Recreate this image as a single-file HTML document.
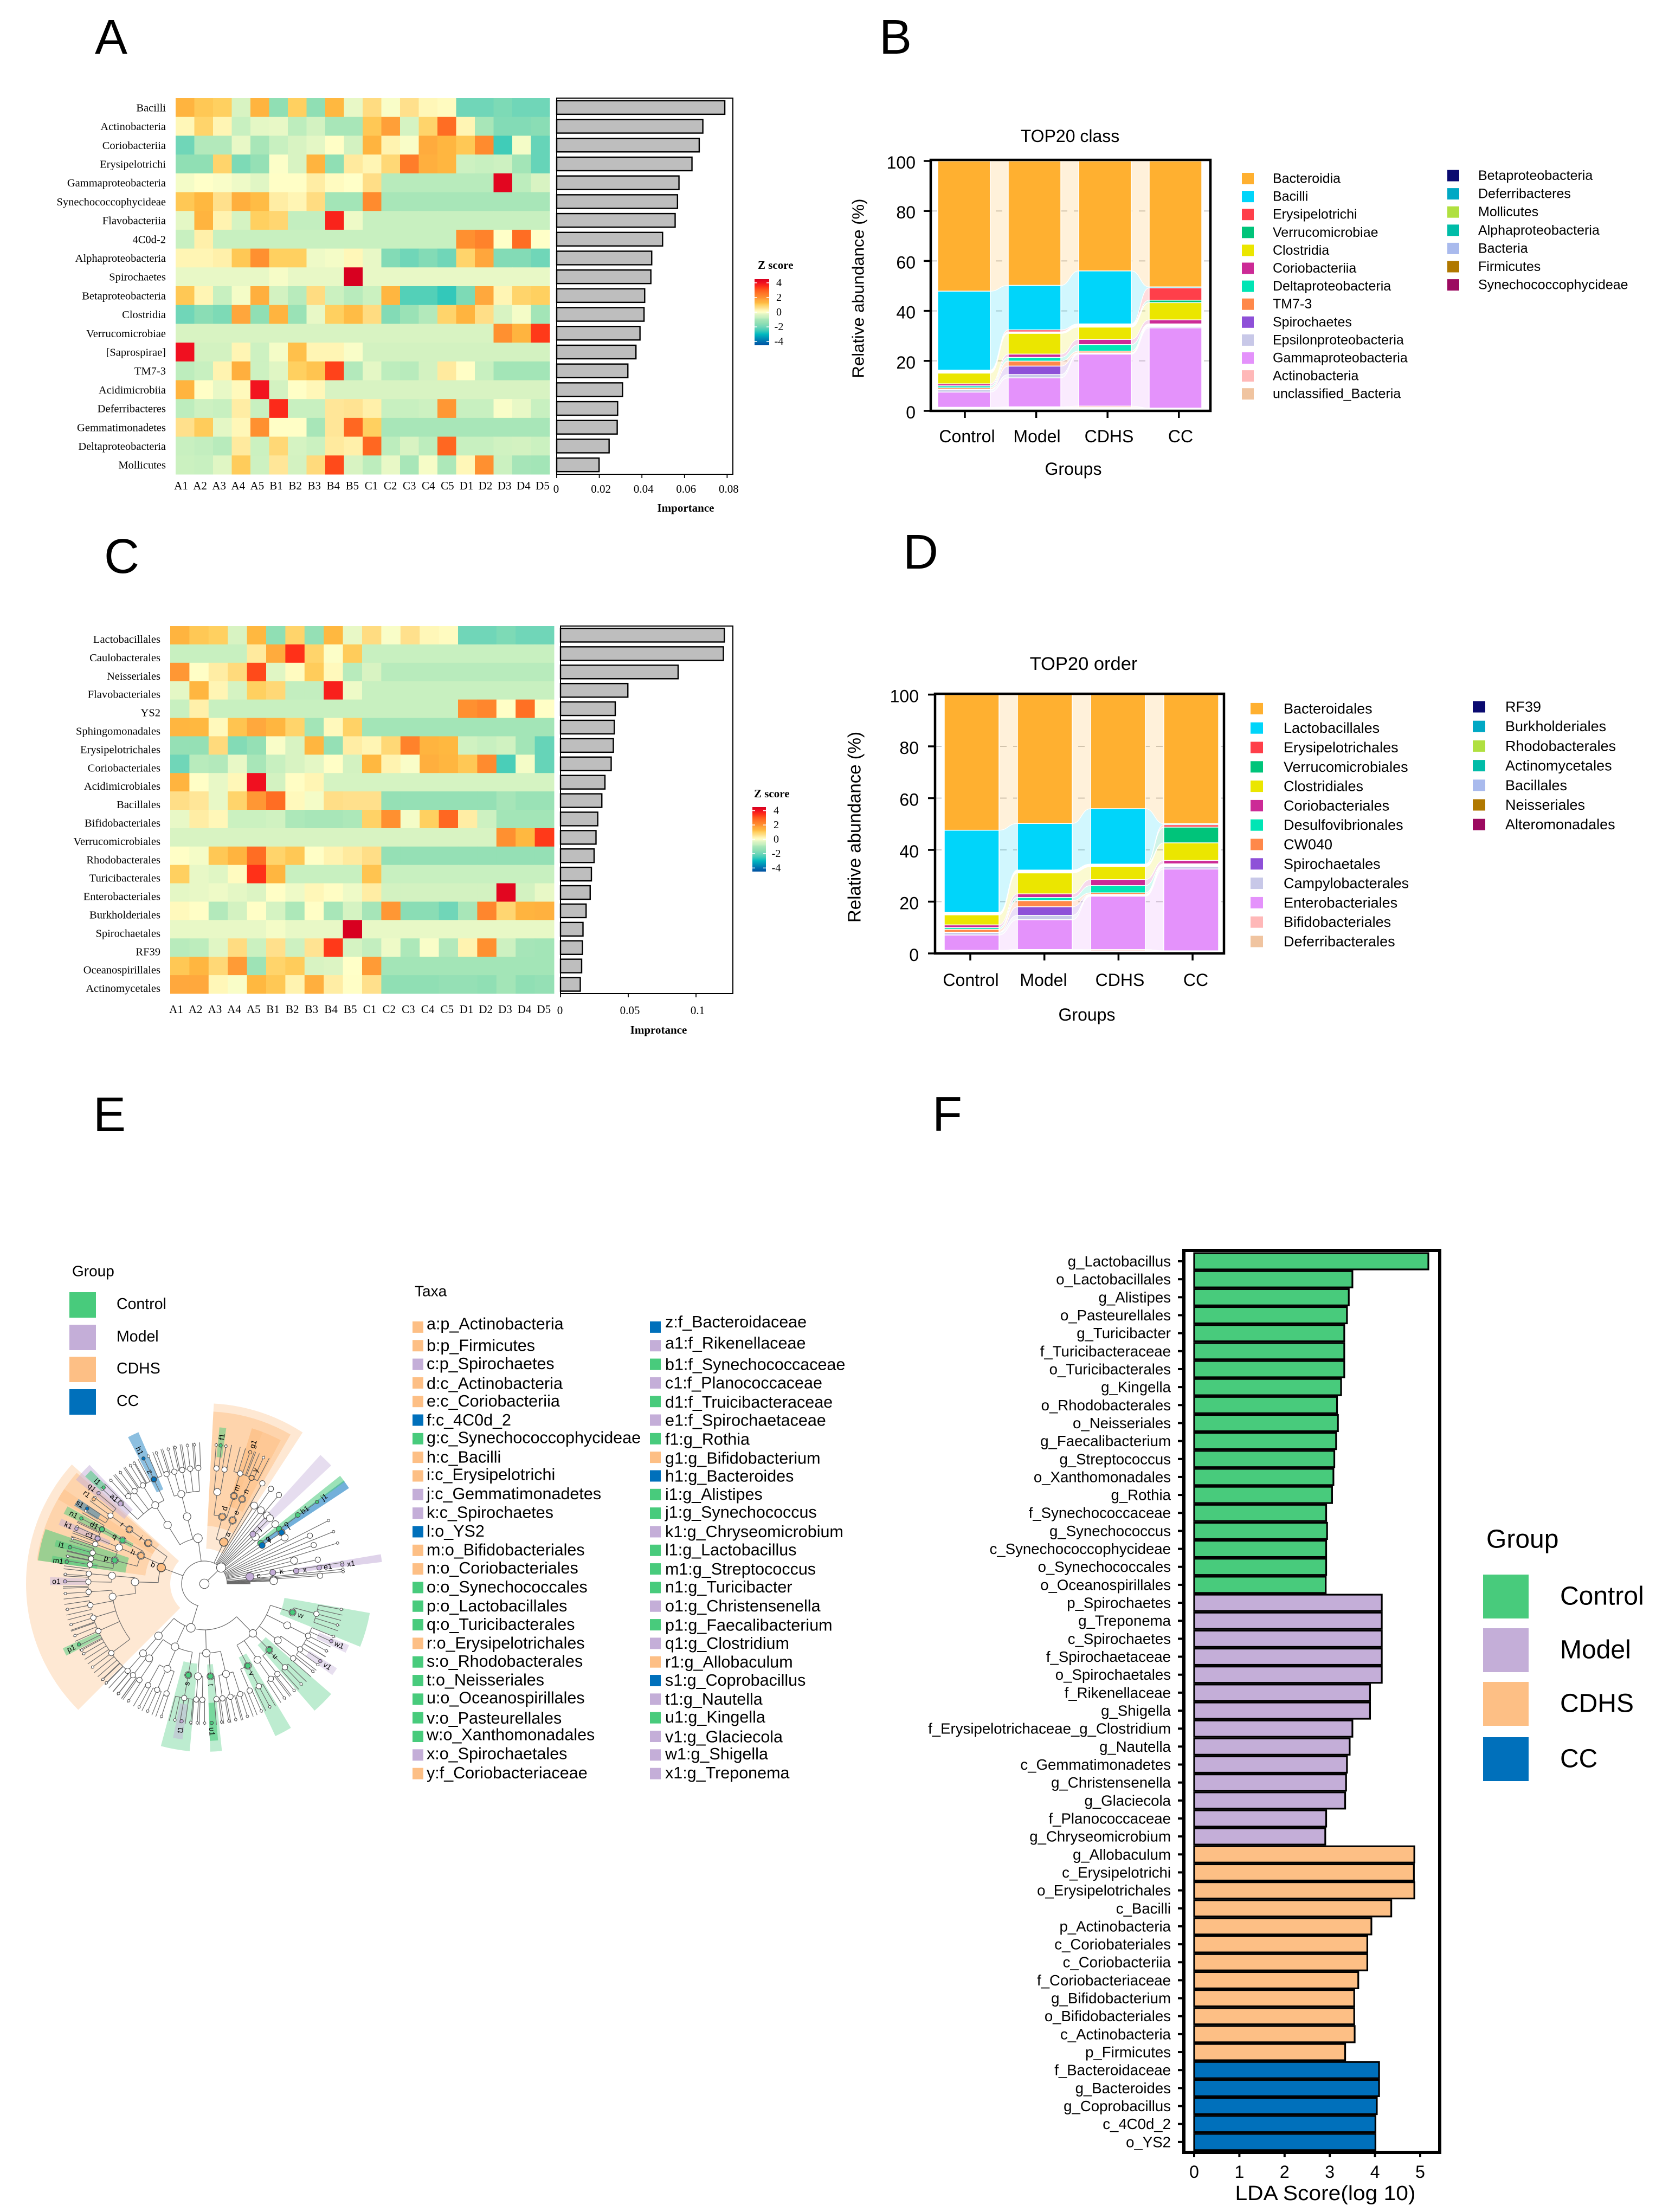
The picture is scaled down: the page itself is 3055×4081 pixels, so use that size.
<!DOCTYPE html>
<html lang="en">
<head>
<meta charset="utf-8">
<title>Microbiome composite figure</title>
<style>
html,body{margin:0;padding:0;background:#fff;}
svg{display:block;}
text{font-family:"Liberation Sans",sans-serif;fill:#000;}
.serif{font-family:"Liberation Serif",serif;}
</style>
</head>
<body>
<svg id="root" xmlns="http://www.w3.org/2000/svg" width="3055" height="4081" viewBox="0 0 3055 4081">
<rect x="0" y="0" width="3055" height="4081" fill="#fff"/>
<defs id="defs"></defs>
<g id="panel-a"><text x="175" y="99" font-size="90">A</text></g>
<g id="panel-b"><text x="1622" y="99" font-size="90">B</text></g>
<g id="panel-c"><text x="192" y="1057" font-size="90">C</text></g>
<g id="panel-d"><text x="1666" y="1049" font-size="90">D</text></g>
<g id="panel-e"><text x="172" y="2087" font-size="90">E</text></g>
<g id="panel-f"><text x="1720" y="2086" font-size="90">F</text></g>
</svg>
<script>
// ---------- colour scale ----------
const zStops = [-4.5,-4,-3,-2.5,-2,-1.5,-1,-0.7,-0.4,-0.2,0,0.3,0.6,1,1.3,1.7,2,2.5,3,3.5,4,4.5];
const zColors = ['#0050a0','#0070b0','#00b8c0','#40ccb8','#70d6b8','#90dfb4','#a8e6b8','#c8f0c0','#d8f3c2','#e8f8c6','#ffffc8','#fff3b0','#ffe08c','#ffd060','#ffb840','#ffa63c','#ff9030','#ff7828','#ff5c1c','#ff3018','#f01020','#d80020'];
const zTicks = [4,2,0,-2,-4];

// ---------- panel A ----------
const heatColumns = ['A1','A2','A3','A4','A5','B1','B2','B3','B4','B5','C1','C2','C3','C4','C5','D1','D2','D3','D4','D5'];
const classRows = ['Bacilli','Actinobacteria','Coriobacteriia','Erysipelotrichi','Gammaproteobacteria','Synechococcophycideae','Flavobacteriia','4C0d-2','Alphaproteobacteria','Spirochaetes','Betaproteobacteria','Clostridia','Verrucomicrobiae','[Saprospirae]','TM7-3','Acidimicrobiia','Deferribacteres','Gemmatimonadetes','Deltaproteobacteria','Mollicutes'];
const classZ = [
[1.4,1.1,1.0,-.4,1.4,-1.5,1.0,-1.5,1.3,-.2,.7,-.05,.6,.2,.1,-2,-2,-1.8,-2,-2],
[.2,.9,.25,-.7,-.25,-.2,-.8,-.5,-1,-1,1.1,1.8,-.45,.9,2.7,.25,-1,-1.7,-1.7,-1.6],
[-2,-.9,-.9,-.2,-1,-.7,-.4,-.25,.03,-.5,1.4,.3,-.05,1.6,1.35,1.1,2.1,-2.5,-.1,-2.1],
[-1.5,-1.5,.9,-1.8,-1.4,-.03,-.4,1.4,-1.5,.45,.25,.8,2.4,1.5,1.35,-.6,-.7,-.6,-1.1,-2.1],
[-.1,0,-.05,-.15,-.3,.03,.03,.4,.1,0,.65,-.85,-.85,-.85,-.85,-.85,-.85,4.3,-.8,-.4],
[1.1,1.3,.6,1.5,1.25,.4,.25,.7,-1.1,-1.1,2.1,-1,-1,-1,-1,-1,-1,-1,-1,-1],
[-.25,1.4,.3,-.45,1.0,.85,-.75,-.75,3.7,-.15,-.7,-.7,-.7,-.7,-.7,-.7,-.7,-.7,-.7,-.7],
[-.7,.35,-.7,-.7,-.7,-.7,-.7,-.7,-.7,-.7,-.7,-.7,-.7,-.7,-.7,2,2.3,0,2.7,0],
[.25,.25,.35,1.1,2,1.0,1.0,-.15,-.1,.2,-.2,-1.7,-2,-1.7,-2,.9,1.7,-1.7,-1.7,-2],
[-.2,-.2,-.2,-.2,-.2,-.08,-.2,-.2,-.2,4.6,-.2,-.2,-.2,-.2,-.2,-.2,-.2,-.2,-.2,-.2],
[1.1,.25,-.7,-.1,1.5,-.5,-.85,.7,-.65,-.85,-.65,1.35,-2.3,-2.3,-2.6,-1.8,1.65,.25,.9,1],
[-2,-1.6,-1.8,1.7,-1.5,1.4,-1.3,-.2,1.0,1.25,.7,-1.7,-1.3,-.9,.9,1.4,.65,-.4,-.1,-1.1],
[-.4,-.4,-.4,-.4,-.4,-.4,-.4,-.4,-.4,-.4,-.4,-.4,-.4,-.4,-.4,-.4,-.4,2,1.4,3.4],
[4.0,-.5,-.5,.25,-.6,-.1,1.2,.25,.25,-.05,-.5,-.5,-.5,-.5,-.5,-.5,-.5,-.5,-.5,-.5],
[-.8,-.7,.3,1.5,-.6,-.3,1.0,1.15,3.3,-.9,-.25,-.8,-.85,-.5,.45,.03,-.7,-1.1,-1.1,-1.1],
[1.4,.02,-.2,.15,3.95,-.5,.03,.2,-.4,-.4,-.4,-.4,-.4,-.4,-.4,-.4,-.4,-.4,-.4,-.4],
[-.8,-.6,-.7,.4,-.7,3.6,-.7,-.7,.5,.55,.35,-.7,-.7,-.6,1.9,-.7,-.7,-.05,-.2,-.7],
[.6,1.05,-.25,.2,2,.02,.03,-1.0,.5,2.8,1.0,-1,-1,-1,-1,-1,-1,-1,-1,-1],
[-.7,-.75,-.85,.45,-.65,.8,-.45,-.65,.45,.35,2.8,-.8,-.4,-.8,2.8,-.7,-.7,-.55,-.5,-.65],
[-.65,-.7,-.3,1.05,-.6,.5,-.5,.75,3.2,-.4,-.8,-.2,-1.0,-.08,-.95,.2,2,-.65,-1.05,-1.1]
];
const classImportance = [.0789,.0686,.0669,.0635,.0574,.0567,.0556,.0497,.0446,.0442,.0413,.0410,.0391,.0372,.0334,.0309,.0286,.0284,.0246,.0199];
const classImportanceTicks = [0,0.02,0.04,0.06,0.08];

// ---------- panel C ----------
const orderRows = ['Lactobacillales','Caulobacterales','Neisseriales','Flavobacteriales','YS2','Sphingomonadales','Erysipelotrichales','Coriobacteriales','Acidimicrobiales','Bacillales','Bifidobacteriales','Verrucomicrobiales','Rhodobacterales','Turicibacterales','Enterobacteriales','Burkholderiales','Spirochaetales','RF39','Oceanospirillales','Actinomycetales'];
const orderZ = [
[1.4,1.1,1.0,-.4,1.3,-1.5,.9,-1.4,1.3,-.2,.7,-.05,.6,.2,.1,-2,-2,-1.8,-2,-2],
[-.7,-.7,-.7,-.7,.45,1.6,3.5,.9,-.03,1.05,-.7,-.7,-.7,-.7,-.7,-.7,-.7,-.7,-.7,-.7],
[1.9,.02,.4,.75,3.2,-.3,.1,1.05,.15,-.85,-.4,-.85,-.85,-.85,-.85,-.85,-.85,-.85,-.85,-.85],
[-.25,1.35,.25,-.45,1.0,.8,-.75,-.75,3.75,-.15,-.7,-.7,-.7,-.7,-.7,-.7,-.7,-.7,-.7,-.7],
[-.7,.35,-.7,-.7,-.7,-.7,-.7,-.7,-.7,-.7,-.7,-.7,-.7,-.7,-.7,2,2.2,.02,2.65,.02],
[1.35,1.3,.15,1.15,1.65,1.35,.9,-1.1,.15,.95,-1.1,-1.1,-1.1,-1.1,-1.1,-1.1,-1.1,-1.1,-1.1,-1.1],
[-1.4,-1.4,.75,-1.7,-1.4,-.05,-.4,1.35,-1.4,.4,.25,.8,2.3,1.4,1.3,-.55,-.7,-.55,-1.1,-2.1],
[-2,-.85,-.9,-.2,-1,-.7,-.4,-.25,.03,-.5,1.3,.3,-.05,1.5,1.35,1.1,2.1,-2.4,-.1,-2.1],
[1.4,.02,-.2,.2,4.0,-.5,.05,.25,-.45,-.45,-.45,-.45,-.45,-.45,-.45,-.45,-.45,-.45,-.45,-.45],
[.65,.5,-.2,.9,1.9,2.7,.15,-.1,.65,.6,.6,-1.4,-1.4,-1.4,-1.4,-1.4,-1.4,-1.05,-1.3,-1.3],
[-.2,.4,.2,-.65,-.65,-.55,-.95,-1,-1,-.95,.95,2,-.1,1,2.8,.4,-.6,-1.1,-1.1,-1.1],
[-.4,-.4,-.4,-.4,-.4,-.4,-.4,-.4,-.4,-.4,-.4,-.4,-.4,-.4,-.4,-.4,-.4,2,1.3,3.4],
[.03,-.1,1.1,1.4,2.7,.9,1.1,.03,.3,.45,.65,-1.4,-1.4,-1.4,-1.4,-1.4,-1.4,-1.4,-1.4,-1.4],
[1.0,-.2,-.3,.1,3.5,1.35,-.7,-.7,-.7,-.7,1.15,-.7,-.7,-.7,-.7,-.7,-.7,-.7,-.7,-.7],
[-.25,-.2,-.15,-.25,-.35,.02,-.15,.2,.05,-.15,.4,-.5,-.5,-.5,-.5,-.5,-.5,4.3,-.5,-.2],
[.15,.03,-.9,-.5,.02,-.45,-.95,.03,-1,-.45,-1.05,1.9,-1.6,-1.6,-2,-1,2.2,.85,1.4,1.45],
[-.2,-.2,-.2,-.2,-.2,-.1,-.2,-.2,-.2,4.6,-.2,-.2,-.2,-.2,-.2,-.2,-.2,-.2,-.2,-.2],
[-.85,-.8,-.3,.7,-.65,.6,-.6,.55,3.4,-.45,-.75,-.15,-.95,-.05,-.9,.3,2,-.6,-1.05,-1.1],
[1.1,1.35,.8,1.85,-1.2,.9,1.05,-.4,-.35,0,1.85,-1.1,-1.1,-1.1,-1.1,-1.1,-1.1,-1.1,-1.1,-1.1],
[1.65,1.65,.2,-.05,1.3,1.1,.3,1.5,.4,.02,.6,-1.5,-1.5,-1.5,-1.4,-1.4,-1.5,-1.1,-1.5,-1.4]
];
const orderImportance = [.1209,.1202,.0868,.0497,.0404,.0397,.039,.0374,.0328,.0305,.0275,.0262,.0248,.0228,.0219,.0189,.0166,.0162,.0156,.0146];
const orderImportanceTicks = [0,0.05,0.1];

// ---------- panels B and D ----------
const stackGroups = ['Control','Model','CDHS','CC'];
const stackTicks = [0,20,40,60,80,100];
const classStackNames = ['Bacteroidia','Bacilli','Erysipelotrichi','Verrucomicrobiae','gap','Clostridia','Coriobacteriia','Deltaproteobacteria','TM7-3','Spirochaetes','gap','Epsilonproteobacteria','Gammaproteobacteria','Actinobacteria','unclassified_Bacteria'];
const classControl = [52.1,31.6,.2,.1,.9,4.3,.8,.8,.7,.1,0,.9,6.1,.1,.3];
const classModel = [49.8,17.8,.8,0,.6,8.3,1.3,1.5,2.0,3.4,0,1.3,11.6,.1,.2];
const classCDHS = [44,21.2,0,0,1.3,4.9,2.1,2.6,.7,0,.5,0,20.8,.6,.1];
const classCC = [50.4,.4,4.9,1.0,0,6.9,1.6,0,0,0,1.0,.6,32.1,0,.1];
const orderStackNames = ['Bacteroidales','Lactobacillales','Erysipelotrichales','Verrucomicrobiales','gap','Clostridiales','Coriobacteriales','Desulfovibrionales','CW040','Spirochaetales','gap','Campylobacterales','Enterobacteriales','Bifidobacteriales','Deferribacterales'];
const orderControl = [52.4,31.8,.1,0,.8,3.9,1,.7,1.1,.1,0,1.0,5.9,.1,.2];
const orderModel = [49.8,18,.1,0,1,8.1,1.4,1.2,2.4,3.3,0,1.7,11.5,.1,.2];
const orderCDHS = [44.1,21.4,0,0,1,5,2.3,2.8,.6,0,.7,0,20.6,.5,.2];
const orderCC = [49.9,.4,.9,6.1,0,6.8,1.3,0,0,0,1.1,.9,31.6,0,.1];
const stackColors = ['#ffb030','#00d5fa','#ff3f4a','#00c47a','#ffffff','#ebe600','#cc2a96','#00e5b5','#ff884a','#8e50d8','#ffffff','#c8c8e8','#e492fb','#ffb8b8','#f0c4a0'];
const classLegendLeft = ['Bacteroidia','Bacilli','Erysipelotrichi','Verrucomicrobiae','Clostridia','Coriobacteriia','Deltaproteobacteria','TM7-3','Spirochaetes','Epsilonproteobacteria','Gammaproteobacteria','Actinobacteria','unclassified_Bacteria'];
const classLegendRight = ['Betaproteobacteria','Deferribacteres','Mollicutes','Alphaproteobacteria','Bacteria','Firmicutes','Synechococcophycideae'];
const orderLegendLeft = ['Bacteroidales','Lactobacillales','Erysipelotrichales','Verrucomicrobiales','Clostridiales','Coriobacteriales','Desulfovibrionales','CW040','Spirochaetales','Campylobacterales','Enterobacteriales','Bifidobacteriales','Deferribacterales'];
const orderLegendRight = ['RF39','Burkholderiales','Rhodobacterales','Actinomycetales','Bacillales','Neisseriales','Alteromonadales'];
const legendLeftColors = ['#ffb030','#00d5fa','#ff3f4a','#00c47a','#ebe600','#cc2a96','#00e5b5','#ff884a','#8e50d8','#c8c8e8','#e492fb','#ffb8b8','#f0c4a0'];
const legendRightColors = ['#0a0a70','#00a8c4','#b0e040','#00bca8','#a9baed','#b07800','#9c0a60'];

// ---------- panel E / F shared group colours ----------
const groupNames = ['Control','Model','CDHS','CC'];
const groupColors = {G:'#48cb7c',P:'#c4aed8',O:'#fdbf85',B:'#0070bb'};

// ---------- panel E: taxa list ----------
const taxaLeft = ['a:p_Actinobacteria','b:p_Firmicutes','c:p_Spirochaetes','d:c_Actinobacteria','e:c_Coriobacteriia','f:c_4C0d_2','g:c_Synechococcophycideae','h:c_Bacilli','i:c_Erysipelotrichi','j:c_Gemmatimonadetes','k:c_Spirochaetes','l:o_YS2','m:o_Bifidobacteriales','n:o_Coriobacteriales','o:o_Synechococcales','p:o_Lactobacillales','q:o_Turicibacterales','r:o_Erysipelotrichales','s:o_Rhodobacterales','t:o_Neisseriales','u:o_Oceanospirillales','v:o_Pasteurellales','w:o_Xanthomonadales','x:o_Spirochaetales','y:f_Coriobacteriaceae'];
const taxaLeftGroups = ['O','O','P','O','O','B','G','O','O','P','P','B','O','O','G','G','G','O','G','G','G','G','G','P','O'];
const taxaRight = ['z:f_Bacteroidaceae','a1:f_Rikenellaceae','b1:f_Synechococcaceae','c1:f_Planococcaceae','d1:f_Truicibacteraceae','e1:f_Spirochaetaceae','f1:g_Rothia','g1:g_Bifidobacterium','h1:g_Bacteroides','i1:g_Alistipes','j1:g_Synechococcus','k1:g_Chryseomicrobium','l1:g_Lactobacillus','m1:g_Streptococcus','n1:g_Turicibacter','o1:g_Christensenella','p1:g_Faecalibacterium','q1:g_Clostridium','r1:g_Allobaculum','s1:g_Coprobacillus','t1:g_Nautella','u1:g_Kingella','v1:g_Glaciecola','w1:g_Shigella','x1:g_Treponema'];
const taxaRightGroups = ['B','P','G','P','G','P','G','O','B','G','G','P','G','G','G','P','G','P','O','B','P','G','P','P','P'];

// ---------- panel E: cladogram (angles in degrees, levels 1=phylum .. 5=genus) ----------
const cladeTree = [
 [159.4,[
  [156,[[165.3,[[160,2],[164.5,3],[167.5,2],[170.5,3]]],[157,[[157,4]]],[152,[[152,3]]]]],
  [144,[[144,[[144,5]]]]],
  [178.5,[[175,[[175,2],[179,3]]],[188,[[184,3],[190.6,3],[197,3],[204,5],[216.7,9]]]]]
 ]],
 [98,[
  [122,[[122,[[115.8,5],[122,3],[127,3],[131,2],[136,2]]]]],
  [104.4,[[104.4,[[93,2],[97,3],[101,2],[105,3],[109,2]]]]]
 ]],
 [65,[
  [75,[[71.4,[[72,4]]],[82,[[80,2],[84,2]]]]],
  [66,[[65.9,[[66,4]]]]]
 ]],
 [253,[
  [228.6,[[228.6,[[228.6,6]]]]],
  [245,[[233.5,[[232,3],[236,2]]],[246.5,[[241,2],[246,3],[251,2]]],[260,[[260,5]]]]],
  [271.6,[[266,[[266,2],[269,2]]],[273.8,[[276,2]]],[283.5,[[279,2],[283,3],[288,3]]]]],
  [314.4,[[298,[[293,2],[298,3]]],[305,[[305,3]]],[314.5,[[309,2],[314,3]]],[322.4,[[320,2],[325.6,4]]],[333.4,[[333.4,5]]],[342,[[345,5]]]]]
 ]]
];
const cladeStemAngles = [60,57.5,55,52.5,50,47.5,45,42.5,40,36,33.6,30,27,24.5,22,19.5,17,14.5,12,8.8,6,5,4,3.2,2.4,1.6,.8,0];
const cladeStemLevels = [4,3,4,3,4,3,3,2,3,5,3,3,5,4,5,4,5,3,4,5,5,5,4,2,2,1,1,1];

const cladeLabels = ['b','a','d','e','n','m','y','g1','f1','h','i','r','q','p','d1','n1','a1','i1','q1','r1','s1','k1','c1','l1','m1','o1','p1','z','h1','s','t','u1','t1','v','u','w','v1','w1','x1','e1','x','k','c','j1','b1','o','g','l','f','j'];
const cladeLabelAngles = [159.4,65,75,66,65.9,71.4,66,70.8,83.3,156,144,144,152,165.3,152,152,136.3,136.3,139.4,142.6,147.3,156.7,157,164.8,171,179,205.8,115.8,115.9,260,273.8,273,260.6,297.9,314.5,342,326.3,335.7,7.9,8,8,9.4,8.8,36,36.4,36.4,35.8,33.6,33.6,45.6];
const cladeLabelLevels = [1,1,2,2,3,3,4,5,5,2,2,3,3,3,4,5,4,5,5,5,5,5,4,5,5,5,5,4,5,3,3,5,5,3,3,3,5,5,5,4,3,2,1,5,4,3,2,3,2,2];
const cladeLabelGroups = ['O','O','O','O','O','O','O','O','G','O','O','O','G','G','G','G','P','G','P','O','B','P','P','G','G','P','G','B','B','G','G','G','P','G','G','G','P','P','P','P','P','P','P','G','G','G','G','B','B','P'];

const sectorNames = ['a','b','d','h','i','n','m','p','q','s','t','v','u','w','x','c-model','f-band','g-band','h1','a1','f1','i1','s1','k1','l1','m1','o1','p1','t1','u1','v1','w1'];
const sectorStart = [57,138,60,146,139,62,69,161,150.5,255,272,295,311,338,7,43,33.5,36,113.5,134,82,135,146,155.5,163.5,169.5,177.5,204.5,258.5,272,324.5,334];
const sectorEnd = [87,225,87,172,150,73,73,172,153.5,265,276,301,319,350,9.5,48,36.5,38.5,117.5,141,84.5,138,149,158,166,172,180.5,207.5,262,275,327.5,337];
const sectorInner = [65,63,107,110,110,150,150,147,150,148,149,150,150,150,171,130,129,129,190,190,235,256,230,190,210,200,215,215,225,220,230,230];
const sectorOuter = [333,329,318,312,312,300,300,310,290,310,310,310,310,310,330,320,320,320,305,305,290,296,280,290,285,285,285,287,290,290,290,290];
const sectorGroups = ['O','O','O','O','O','O','O','G','G','G','G','G','G','G','P','P','B','G','B','P','G','G','B','P','G','G','P','G','P','G','P','P'];
const sectorOpacity = [.36,.36,.5,.5,.5,.6,.4,.55,.5,.36,.36,.36,.36,.36,.55,.42,.55,.55,.45,.5,.5,.55,.45,.5,.5,.5,.45,.5,.45,.6,.4,.4];

// ---------- panel F ----------
const ldaLabels = ['g_Lactobacillus','o_Lactobacillales','g_Alistipes','o_Pasteurellales','g_Turicibacter','f_Turicibacteraceae','o_Turicibacterales','g_Kingella','o_Rhodobacterales','o_Neisseriales','g_Faecalibacterium','g_Streptococcus','o_Xanthomonadales','g_Rothia','f_Synechococcaceae','g_Synechococcus','c_Synechococcophycideae','o_Synechococcales','o_Oceanospirillales','p_Spirochaetes','g_Treponema','c_Spirochaetes','f_Spirochaetaceae','o_Spirochaetales','f_Rikenellaceae','g_Shigella','f_Erysipelotrichaceae_g_Clostridium','g_Nautella','c_Gemmatimonadetes','g_Christensenella','g_Glaciecola','f_Planococcaceae','g_Chryseomicrobium','g_Allobaculum','c_Erysipelotrichi','o_Erysipelotrichales','c_Bacilli','p_Actinobacteria','c_Coriobateriales','c_Coriobacteriia','f_Coriobacteriaceae','g_Bifidobacterium','o_Bifidobacteriales','c_Actinobacteria','p_Firmicutes','f_Bacteroidaceae','g_Bacteroides','g_Coprobacillus','c_4C0d_2','o_YS2'];
const ldaValues = [5.18,3.50,3.42,3.38,3.32,3.32,3.32,3.25,3.16,3.18,3.14,3.10,3.08,3.05,2.92,2.94,2.92,2.92,2.91,4.15,4.15,4.15,4.15,4.15,3.89,3.89,3.50,3.44,3.38,3.36,3.34,2.92,2.90,4.87,4.86,4.87,4.36,3.92,3.83,3.83,3.63,3.54,3.54,3.55,3.34,4.09,4.09,4.04,4.01,4.01];
const ldaGroups = ['G','G','G','G','G','G','G','G','G','G','G','G','G','G','G','G','G','G','G','P','P','P','P','P','P','P','P','P','P','P','P','P','P','O','O','O','O','O','O','O','O','O','O','O','O','B','B','B','B','B'];
const ldaTicks = [0,1,2,3,4,5];

// ---------- helpers ----------
const NS = 'http://www.w3.org/2000/svg';
function mk(parent, tag, attrs, txt) {
  const e = document.createElementNS(NS, tag);
  for (const k in attrs) e.setAttribute(k, attrs[k]);
  if (txt !== undefined) e.textContent = txt;
  parent.appendChild(e);
  return e;
}
function hexRgb(h){return [parseInt(h.substr(1,2),16),parseInt(h.substr(3,2),16),parseInt(h.substr(5,2),16)];}
function zColor(z){
  if (z <= zStops[0]) return zColors[0];
  for (let i = 1; i < zStops.length; i++) {
    if (z <= zStops[i]) {
      const t = (z - zStops[i-1]) / (zStops[i] - zStops[i-1]);
      const a = hexRgb(zColors[i-1]), b = hexRgb(zColors[i]);
      return 'rgb(' + a.map((v,j)=>Math.round(v+(b[j]-v)*t)).join(',') + ')';
    }
  }
  return zColors[zColors.length-1];
}

// colour bar gradient
(function(){
  const grad = mk(document.getElementById('defs'), 'linearGradient', {id:'zGrad',x1:0,y1:1,x2:0,y2:0});
  zStops.forEach(function(z,i){
    mk(grad,'stop',{offset:((z+4.5)/9*100)+'%','stop-color':zColors[i]});
  });
})();

// ---------- heatmap + importance bars ----------
function drawHeatPanel(p, cfg) {
  const g = document.getElementById(p);
  const cw = (cfg.right - cfg.left) / cfg.columns.length;
  const rh = (cfg.bottom - cfg.top) / cfg.rows.length;
  cfg.z.forEach(function(row, r){
    row.forEach(function(v, c){
      const cell = mk(g,'rect',{x:cfg.left+c*cw,y:cfg.top+r*rh,width:cw+.5,height:rh+.5,fill:zColor(v)});
      
      
    });
    const lab = mk(g,'text',{x:cfg.labelRight,y:cfg.top+(r+.5)*rh+cfg.labelDy,'text-anchor':'end','dominant-baseline':'central','font-size':cfg.labelSize,class:'serif'},cfg.rows[r]);
    
    
  });
  cfg.columns.forEach(function(n,i){
    const lab = mk(g,'text',{x:cfg.colLabelX+i*cfg.colLabelStep,y:cfg.colLabelY,'text-anchor':'middle','dominant-baseline':'central','font-size':21,class:'serif'},n);
    
    
  });
  const sx = function(v){return cfg.barLeft + v*cfg.barScale;};
  const frame = mk(g,'rect',{x:cfg.barLeft,y:cfg.top,width:cfg.barRight-cfg.barLeft,height:cfg.bottom-cfg.top,fill:'none',stroke:'#000','stroke-width':2});
  
  
  cfg.importance.forEach(function(v,i){
    const b = mk(g,'rect',{x:cfg.barLeft,y:cfg.top+(i+.5)*rh-12.5,width:v*cfg.barScale,height:25,fill:'#bebebe',stroke:'#000','stroke-width':2.4});
    
    
  });
  cfg.ticks.forEach(function(t){
    const l = mk(g,'line',{x1:sx(t),x2:sx(t),y1:cfg.bottom,y2:cfg.bottom+7,stroke:'#000','stroke-width':1.8});
    
    
    const tx = mk(g,'text',{x:sx(t)+(t===0?-1:3),y:cfg.tickLabelY,'text-anchor':'middle','dominant-baseline':'central','font-size':21,class:'serif'},String(t));
    
    
  });
  const ttl = mk(g,'text',{x:cfg.titleX,y:cfg.titleY,'text-anchor':'middle','dominant-baseline':'central','font-size':21,'font-weight':'bold',class:'serif'},cfg.title);
  
  
  const zt = mk(g,'text',{x:cfg.zX,y:cfg.zY,'dominant-baseline':'central','font-size':21,'font-weight':'bold',class:'serif'},'Z score');
  
  
  const bar = mk(g,'rect',{x:cfg.cbX,y:cfg.cbTop,width:cfg.cbW,height:cfg.cbH,fill:'url(#zGrad)'});
  
  
  const zy = function(z){return cfg.cbTop + cfg.cbH*(4.5-z)/9;};
  zTicks.forEach(function(z){
    [0,cfg.cbW-5].forEach(function(off){
      const d = mk(g,'line',{x1:cfg.cbX+off,x2:cfg.cbX+off+5,y1:zy(z),y2:zy(z),stroke:'#fff','stroke-width':1.5});
      
      
    });
    const tl = mk(g,'text',{x:cfg.zLabelX,y:zy(z),'text-anchor':'middle','dominant-baseline':'central','font-size':20,class:'serif'},String(z));
    
    
  });
}
drawHeatPanel('panel-a',{columns:heatColumns,rows:classRows,z:classZ,importance:classImportance,ticks:classImportanceTicks,
  left:324,right:1014,top:181,bottom:875,labelRight:306,labelSize:20.5,labelDy:1,colLabelX:334,colLabelStep:35.1,colLabelY:896,
  barLeft:1027,barRight:1352,barScale:3930,tickLabelY:902,title:'Importance',titleX:1265,titleY:937,
  zX:1398,zY:489,cbX:1392,cbTop:515,cbW:27,cbH:122,zLabelX:1437});
drawHeatPanel('panel-c',{columns:heatColumns,rows:orderRows,z:orderZ,importance:orderImportance,ticks:orderImportanceTicks,
  left:314,right:1022,top:1155,bottom:1833,labelRight:296,labelSize:20.5,labelDy:8,colLabelX:325,colLabelStep:35.7,colLabelY:1862,
  barLeft:1034,barRight:1352,barScale:2500,tickLabelY:1864,title:'Improtance',titleX:1215,titleY:1900,
  zX:1391,zY:1464,cbX:1388,cbTop:1489,cbW:25,cbH:119,zLabelX:1432});

// ---------- stacked bars ----------
function drawStack(p, cfg) {
  const g = document.getElementById(p);
  const yv = function(v){return cfg.y0 - v*(cfg.y0-cfg.y100)/100;};
  const bx = function(i){return cfg.barLeft + i*cfg.barStep;};
  stackTicks.slice(1,5).forEach(function(t){
    const l = mk(g,'line',{x1:cfg.left,x2:cfg.right,y1:yv(t),y2:yv(t),stroke:'#c8c8c8','stroke-width':2,'stroke-dasharray':'12 12'});
    
    
  });
  const tops = cfg.values.map(function(vals){
    let c = 100; return vals.map(function(v){const t=c; c-=v; return [t,c];});
  });
  for (let i=0;i<cfg.values.length-1;i++) {
    cfg.names.forEach(function(n,s){
      if (n==='gap') return;
      const a=tops[i][s], b=tops[i+1][s];
      if (a[0]-a[1]<=0 && b[0]-b[1]<=0) return;
      const x1=bx(i)+cfg.barW, x2=bx(i+1), xm=(x1+x2)/2;
      const d='M'+x1+' '+yv(a[0])+'C'+xm+' '+yv(a[0])+' '+xm+' '+yv(b[0])+' '+x2+' '+yv(b[0])+
              'L'+x2+' '+yv(b[1])+'C'+xm+' '+yv(b[1])+' '+xm+' '+yv(a[1])+' '+x1+' '+yv(a[1])+'Z';
      const f=mk(g,'path',{d:d,fill:stackColors[s],'fill-opacity':.18,stroke:'#fff','stroke-width':1.2});
      
      
    });
  }
  cfg.values.forEach(function(vals,i){
    vals.forEach(function(v,s){
      if (v<=0 || cfg.names[s]==='gap') return;
      const r=mk(g,'rect',{x:bx(i),y:yv(tops[i][s][0]),width:cfg.barW,height:yv(tops[i][s][1])-yv(tops[i][s][0]),fill:stackColors[s],stroke:'#fff','stroke-width':1.5});
      
      
    });
  });
  const fr=mk(g,'rect',{x:cfg.left,y:cfg.top,width:cfg.right-cfg.left,height:cfg.y0-cfg.top,fill:'none',stroke:'#000','stroke-width':4.5});
  
  
  stackTicks.forEach(function(t,i){
    const l=mk(g,'line',{x1:cfg.left-13,x2:cfg.left,y1:yv(t),y2:yv(t),stroke:'#000','stroke-width':3.5});
    
    
    const tx=mk(g,'text',{x:cfg.tickRight,y:yv(t)+3,'text-anchor':'end','dominant-baseline':'central','font-size':32},String(t));
    
    
  });
  stackGroups.forEach(function(n,i){
    const xt=cfg.tickX+i*cfg.tickStep;
    const l=mk(g,'line',{x1:xt,x2:xt,y1:cfg.y0,y2:cfg.y0+13,stroke:'#000','stroke-width':3.5});
    
    
    const tx=mk(g,'text',{x:cfg.groupX[i],y:cfg.groupY,'text-anchor':'middle','dominant-baseline':'central','font-size':32},n);
    
    
  });
  const t1=mk(g,'text',{x:cfg.titleX,y:cfg.titleY,'text-anchor':'middle','dominant-baseline':'central','font-size':cfg.titleSize},cfg.title);
  
  
  const t2=mk(g,'text',{x:cfg.titleX+6,y:cfg.xTitleY,'text-anchor':'middle','dominant-baseline':'central','font-size':32},'Groups');
  
  
  const t3=mk(g,'text',{x:cfg.yTitleX,y:cfg.yTitleY,'text-anchor':'middle','dominant-baseline':'central','font-size':cfg.yTitleSize,transform:'rotate(-90 '+cfg.yTitleX+' '+cfg.yTitleY+')'},'Relative abundance (%)');
  
  
  function legend(list,colors,swX,txtX,ys,txtYs,sz,h){
    list.forEach(function(n,i){
      const sw=mk(g,'rect',{x:swX,y:ys[0]+i*ys[1]-h/2,width:cfg.swW,height:h,fill:colors[i]});
      
      
      const tx=mk(g,'text',{x:txtX,y:txtYs[0]+i*txtYs[1],'dominant-baseline':'central','font-size':sz},n);
      
      
    });
  }
  legend(cfg.legendLeft,legendLeftColors,cfg.lg1,cfg.lt1,cfg.lgYs1,cfg.lgYs1,cfg.lgSize,21);
  legend(cfg.legendRight,legendRightColors,cfg.lg2,cfg.lt2,cfg.lgYs2,cfg.lgYs2,cfg.lgSize,21);
}
drawStack('panel-b',{names:classStackNames,values:[classControl,classModel,classCDHS,classCC],
  left:1717,right:2233,top:295,y0:758,y100:297,barLeft:1730,barStep:130,barW:97,tickRight:1689,
  tickX:1780,tickStep:131.6,groupX:[1784,1913,2046,2178],groupY:805,title:'TOP20 class',titleX:1974,titleY:251,titleSize:32,xTitleY:865,
  yTitleX:1583,yTitleY:532,yTitleSize:31,legendLeft:classLegendLeft,legendRight:classLegendRight,
  lg1:2291,lt1:2348,lgYs1:[329.5,33.1],lg2:2670,lt2:2727,lgYs2:[324,33.6],lgSize:25,swW:22});
drawStack('panel-d',{names:orderStackNames,values:[orderControl,orderModel,orderCDHS,orderCC],
  left:1725,right:2258,top:1280,y0:1759,y100:1281.5,barLeft:1742,barStep:135,barW:101,tickRight:1695,
  tickX:1790,tickStep:136.7,groupX:[1791,1925,2066,2206],groupY:1808,title:'TOP20 order',titleX:1999,titleY:1225,titleSize:34.5,xTitleY:1872,
  yTitleX:1576,yTitleY:1526,yTitleSize:33,legendLeft:orderLegendLeft,legendRight:orderLegendRight,
  lg1:2307,lt1:2368,lgYs1:[1307.4,35.8],lg2:2717,lt2:2777,lgYs2:[1304,36.2],lgSize:27,swW:23});

// ---------- cladogram ----------
(function(){
  const g = document.getElementById('panel-e');
  const cx = 377, cy = 2922;
  const radii = [42,85,128,171,214,257];
  const nodeSize = [8.5,8,7,6.5,5,2.4];
  const markSize = [8.5,7.5,5.5,5,4.5,3.2];
  const pt = function(r,a){const t=a*Math.PI/180;return [cx+r*Math.cos(t),cy-r*Math.sin(t)];};
  function branchPath(d){
    const b = mk(g,'path',{d:d,fill:'none',stroke:'#6a6a6a','stroke-width':1.2});
    
    
  }
  function radial(r1,r2,a){
    const p=pt(r1,a), q=pt(r2,a);
    branchPath('M'+p[0]+' '+p[1]+'L'+q[0]+' '+q[1]);
  }
  function arc(r,a1,a2){
    if (a2-a1<.01) return;
    const p=pt(r,a1), q=pt(r,a2);
    branchPath('M'+p[0]+' '+p[1]+'A'+r+' '+r+' 0 '+((a2-a1)>180?1:0)+' 0 '+q[0]+' '+q[1]);
  }
  function node(level,a,fill){
    const p=pt(radii[level],a);
    const c=mk(g,'circle',{cx:p[0],cy:p[1],r:nodeSize[level],fill:fill,stroke:'#444','stroke-width':1});
    
    
  }
  // highlight sectors
  sectorNames.forEach(function(n,i){
    const a1=sectorStart[i],a2=sectorEnd[i],r1=sectorInner[i],r2=sectorOuter[i];
    const p1=pt(r1,a1),p2=pt(r2,a1),p3=pt(r2,a2),p4=pt(r1,a2);
    const large=(a2-a1)>180?1:0;
    const s=mk(g,'path',{d:'M'+p1[0]+' '+p1[1]+'L'+p2[0]+' '+p2[1]+'A'+r2+' '+r2+' 0 '+large+' 0 '+p3[0]+' '+p3[1]+'L'+p4[0]+' '+p4[1]+'A'+r1+' '+r1+' 0 '+large+' 1 '+p1[0]+' '+p1[1]+'Z',fill:groupColors[sectorGroups[i]],'fill-opacity':sectorOpacity[i]});
    
    
  });
  // tree
  const deferred=[];
  function walk(n,level){
    const a=n[0],kids=n[1];
    radial(radii[level-1],radii[level],a);
    deferred.push([level,a]);
    if (typeof kids==='number'){
      const sp=2.2, first=a-(kids-1)*sp/2, last=a+(kids-1)*sp/2;
      arc(radii[level],first,last);
      for(let i=0;i<kids;i++){
        const t=first+i*sp;
        radial(radii[level],radii[5]+4,t);
        if(i%3===1) deferred.push([5,t]);
      }
    } else {
      let lo=a,hi=a;
      kids.forEach(function(k){lo=Math.min(lo,k[0]);hi=Math.max(hi,k[0]);});
      arc(radii[level],lo,hi);
      kids.forEach(function(k){walk(k,level+1);});
    }
  }
  cladeStemAngles.forEach(function(a,i){
    radial(radii[0],radii[cladeStemLevels[i]],a);
    if(cladeStemLevels[i]>=2) deferred.push([cladeStemLevels[i],a]);
  });
  cladeTree.forEach(function(n){walk(n,1);});
  arc(radii[0],0,255);
  deferred.forEach(function(d){node(d[0],d[1],'#fff');});
  // kingdom level nodes
  const hub=pt(43,44);
  const link=mk(g,'line',{x1:cx,y1:cy,x2:hub[0],y2:hub[1],stroke:'#6a6a6a','stroke-width':1.2});
  
  
  const hubC=mk(g,'circle',{cx:hub[0],cy:hub[1],r:8.5,fill:'#fff',stroke:'#444','stroke-width':1});
  
  
  const rootC=mk(g,'circle',{cx:cx,cy:cy,r:8.7,fill:'#fff',stroke:'#444','stroke-width':1});
  
  
  // labelled biomarker nodes
  cladeLabels.forEach(function(t,i){
    const a=cladeLabelAngles[i],lv=cladeLabelLevels[i];
    const p=pt(radii[lv],a);
    const c=mk(g,'circle',{cx:p[0],cy:p[1],r:markSize[lv],fill:groupColors[cladeLabelGroups[i]],stroke:'#444','stroke-width':1});
    
    
    const q=pt(radii[lv]+16,a);
    const rot=(a>90&&a<=270)?(180-a):(-a);
    const lab=mk(g,'text',{x:q[0],y:q[1],'text-anchor':'middle','dominant-baseline':'central','font-size':14,fill:'#222',transform:'rotate('+rot+' '+q[0]+' '+q[1]+')'},t);
    
    
  });
  // group legend
  const gt=mk(g,'text',{x:133,y:2345,'dominant-baseline':'central','font-size':28},'Group');
  
  
  const legendKeys=['G','P','O','B'];
  const legendY=[2408,2468,2527,2587];
  legendKeys.forEach(function(k,i){
    const y=legendY[i];
    const sw=mk(g,'rect',{x:128,y:y-24,width:49,height:47,fill:groupColors[k]});
    
    
    const tx=mk(g,'text',{x:215,y:y-2,'dominant-baseline':'central','font-size':28.5},groupNames[i]);
    
    
  });
  // taxa list
  const tt=mk(g,'text',{x:765,y:2382,'dominant-baseline':'central','font-size':28},'Taxa');
  
  
  const taxaLeftTextY=[167,233,287,347,400,457,510,569,621,679,736,792,848,903,960,1017,1073,1129,1184,1240,1294,1355,1405,1462,1520];
  const taxaRightTextY=[162,225,290,345,403,458,515,572,626,681,735,794,848,906,960,1017,1075,1130,1186,1241,1298,1352,1412,1463,1520];
  function taxa(list,groups,swX,txtX,textY){
    list.forEach(function(n,i){
      const sy=2340+(177+i*56.05)/1.633;
      const sw=mk(g,'rect',{x:swX,y:sy-10.5,width:20,height:21,fill:groupColors[groups[i]]});
      
      
      const tx=mk(g,'text',{x:txtX,y:2340+textY[i]/1.633,'dominant-baseline':'central','font-size':30.5,fill:'#111'},n);
      
      
    });
  }
  taxa(taxaLeft,taxaLeftGroups,761,787,taxaLeftTextY);
  taxa(taxaRight,taxaRightGroups,1199,1227,taxaRightTextY);
})();

// ---------- LDA bars ----------
(function(){
  const g=document.getElementById('panel-f');
  const x0=2203, ux=83.4, y0=2327, step=33.16;
  const left=2184,right=2656,top=2307,bottom=3971;
  const sx=function(v){return x0+v*ux;};
  ldaValues.forEach(function(v,i){
    const y=y0+i*step;
    const b=mk(g,'rect',{x:x0,y:y-15,width:v*ux,height:30,fill:groupColors[ldaGroups[i]],stroke:'#000','stroke-width':3.2});
    
    
    const t=mk(g,'line',{x1:left-11,x2:left,y1:y,y2:y,stroke:'#000','stroke-width':4});
    
    
    const l=mk(g,'text',{x:2160,y:y,'text-anchor':'end','dominant-baseline':'central','font-size':27.6,fill:'#111'},ldaLabels[i]);
    
    
  });
  const fr=mk(g,'rect',{x:left,y:top,width:right-left,height:bottom-top,fill:'none',stroke:'#000','stroke-width':6});
  
  
  ldaTicks.forEach(function(t){
    const l=mk(g,'line',{x1:sx(t),x2:sx(t),y1:bottom,y2:bottom+9,stroke:'#000','stroke-width':4});
    
    
    const tx=mk(g,'text',{x:sx(t),y:4007,'text-anchor':'middle','dominant-baseline':'central','font-size':32},String(t));
    
    
  });
  const at=mk(g,'text',{x:2445,y:4047,'text-anchor':'middle','dominant-baseline':'central','font-size':38,textLength:333,lengthAdjust:'spacingAndGlyphs'},'LDA Score(log 10)');
  
  
  const lt=mk(g,'text',{x:2742,y:2840,'dominant-baseline':'central','font-size':48},'Group');
  
  
  const ldaLegendKeys=['G','P','O','B'];
  const ldaLegendY=[2905,3004,3103,3205];
  ldaLegendKeys.forEach(function(k,i){
    const y=ldaLegendY[i];
    const sw=mk(g,'rect',{x:2736,y:y,width:84,height:81,fill:groupColors[k]});
    
    
    const tx=mk(g,'text',{x:2878,y:y+40,'dominant-baseline':'central','font-size':48},groupNames[i]);
    
    
  });
})();
</script>
</body>
</html>
